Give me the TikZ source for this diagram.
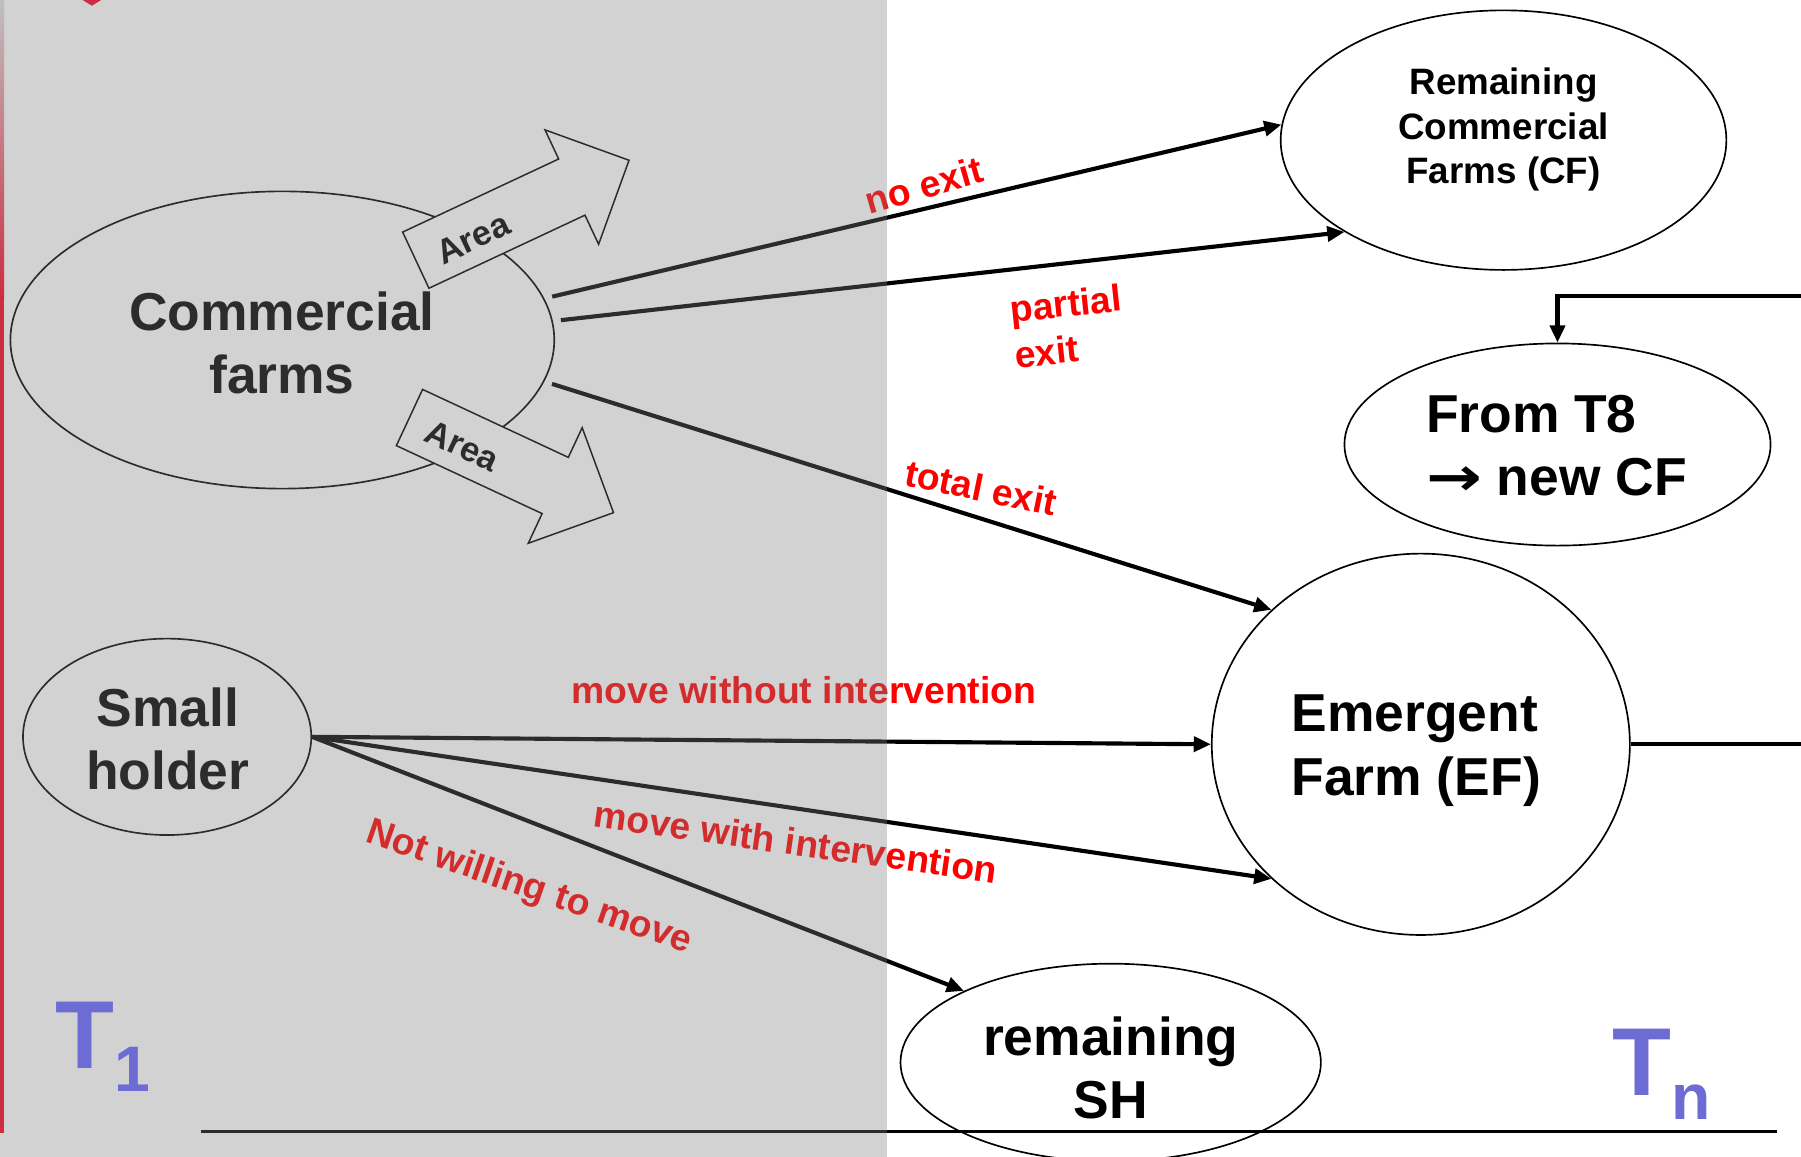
\documentclass[tikz,border=0pt]{standalone}
\usepackage{fontspec}
\setmainfont{Liberation Sans}
\newfontfamily\arrowfont{DejaVu Sans}
\usetikzlibrary{arrows.meta,shapes.geometric,calc}
\definecolor{tblue}{RGB}{108,108,212}
\definecolor{edgered}{RGB}{205,45,65}
\begin{document}
\begin{tikzpicture}[x=1pt,y=-1pt,
  ell/.style={draw=black, line width=1.45pt, ellipse, inner sep=0pt},
  big/.style={font=\bfseries\fontsize{46.5}{55}\selectfont, align=center, inner sep=0pt},
  mid/.style={font=\bfseries\fontsize{32}{38.5}\selectfont, align=center, inner sep=0pt},
  lbl/.style={text=red, font=\bfseries\fontsize{32.5}{40}\selectfont, inner sep=0pt},
  areatxt/.style={font=\bfseries\fontsize{30}{32}\selectfont, inner sep=0pt},
  conn/.style={line width=3.6pt, -{Triangle[length=15pt,width=13pt]}},
  blockarrow/.style={draw=black, line width=1.3pt, fill=white, line join=miter},
  tlab/.style={text=tblue, inner sep=0pt, anchor=base west, font=\bfseries}
]
\useasboundingbox (0,0) rectangle (1568,1007);
\fill[white] (0,0) rectangle (1568,1007);

% footer rule
\draw[line width=2.2pt] (175,985) -- (1547,985);

% nodes (ellipses)
\node[ell, minimum width=473.5pt, minimum height=258.8pt] (cfe) at (245.8,296) {};
\node[ell, minimum width=251pt, minimum height=171pt] (she) at (145.5,641.5) {};
\node[ell, minimum width=388pt, minimum height=226pt] (rcf) at (1309,122) {};
\node[ell, minimum width=371pt, minimum height=176pt] (t8) at (1356,387) {};
\node[ell, minimum width=364pt, minimum height=332pt] (ef) at (1237,648) {};
\node[ell, minimum width=366pt, minimum height=172pt] (rsh) at (967,925) {};

% node texts
\node[big] (cftxt) at (245.5,298.2) {Commercial\\farms};
\node[big] (shtxt) at (146,643.2) {Small\\holder};
\node[big] (rshtxt) at (967,929.7) {remaining\\SH};
\node[mid] (rcftxt) at (1309,112.9) {Remaining\\Commercial\\Farms (CF)};
\node[big, align=left] (t8txt) at (1355,388.2) {From T8\\{\arrowfont\bfseries\scalebox{1.25}[1]{→}} new CF};
\node[big, align=left] (eftxt) at (1233,653.5) {Emergent\\Farm (EF)};

% connectors
\draw[conn, shorten <=7pt] (cfe.9) -- (rcf.176);
\draw[conn, shorten <=7pt] (cfe.4) -- (rcf.210);
\draw[conn, shorten <=7pt] (cfe.351) -- (ef.138);
\draw[conn] (she.east) -- (ef.west);
\draw[conn] (she.east) -- (ef.222);
\draw[conn] (she.east) -- (rsh.154);
\draw[conn, line join=miter] (ef.east) -- (1700,648) |- (t8.north |- 0,257.5) -- (t8.north);

% connector labels
\node[lbl, rotate=16] (lnoexit) at (804.2,161.1) {no exit};
\node[lbl, rotate=6, align=left] (lpartial) at (930,284) {partial\\exit};
\node[lbl, rotate=-11.5] (ltotal) at (854.2,424.5) {total exit};
\node[lbl] (lwithout) at (700,601) {move without intervention};
\node[lbl, rotate=-8] (lwith) at (693,733) {move with intervention};
\node[lbl, rotate=-19] (lnot) at (460.5,773.5) {Not willing to move};

% Area block arrows
\begin{scope}[shift={(362,226.5)}, rotate=25.1]
\draw[blockarrow] (0,-27) -- (150,-27) -- (150,-55) -- (205,0) -- (150,55) -- (150,27) -- (0,27) -- cycle;
\end{scope}
\begin{scope}[shift={(356.5,363.5)}, rotate=-25]
\draw[blockarrow] (0,-27) -- (140,-27) -- (140,-55.5) -- (196,0) -- (140,55.5) -- (140,27) -- (0,27) -- cycle;
\end{scope}
\node[areatxt, rotate=25] (area1) at (411.75,207.5) {Area};
\node[areatxt, rotate=-25] (area2) at (402.5,388.3) {Area};

% grey overlay of the left part
\fill[gray, opacity=0.35] (0,0) rectangle (772,1007);

% left edge strip and top mark
\shade[top color=lightgray, bottom color=edgered] (0,0) rectangle (3.5,260);
\fill[edgered] (0,259) rectangle (3.5,986);
\fill[edgered] (72,0) -- (88,0) -- (80,5) -- cycle;

% time labels
\node[tlab] (t1) at (48.3,930) {\fontsize{84}{84}\selectfont T\raisebox{-20pt}{\fontsize{56}{56}\selectfont 1}};
\node[tlab] (tn) at (1403.3,954) {\fontsize{84}{84}\selectfont T\raisebox{-21pt}{\fontsize{56}{56}\selectfont n}};
\end{tikzpicture}
\end{document}
